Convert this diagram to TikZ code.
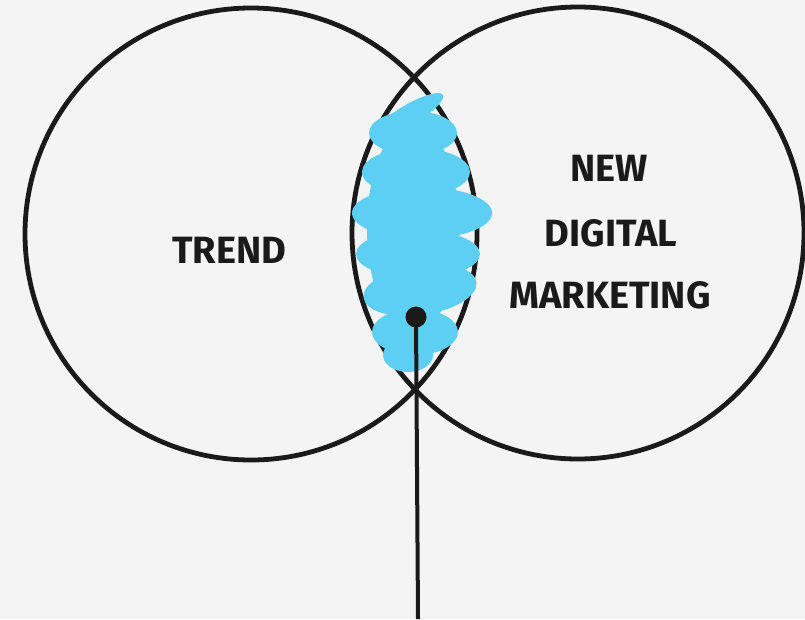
\documentclass[tikz,border=0pt]{standalone}
\usepackage{fontspec}
\setmainfont{Fira Sans}
\definecolor{venn_ink}{RGB}{26, 26, 26}
\definecolor{venn_blue}{RGB}{93, 207, 242}
\definecolor{venn_paper}{RGB}{244, 244, 244}
\usepackage{tikz}
\usetikzlibrary{positioning}

\begin{document}
\begin{tikzpicture}[
        x=1pt, y=-1pt,
        every node/.style={font=\fontsize{38}{40}\selectfont\bfseries, inner sep=0pt},
        ring/.style={draw=venn_ink, circle, line width=4.8pt, minimum size=452pt},
        word/.style={text=venn_ink},
        pin/.style={fill=venn_ink, circle, minimum size=21pt},
        scrib/.style={fill=venn_blue},
      ]
        \fill[venn_paper] (0,0) rectangle (805,619);
        \useasboundingbox (0,0) rectangle (805,619);

        \node[ring] (trend) at (251,234) {};
        \node[ring] (digital) at (578,233) {};

        % blue scribble in the overlap
        \fill[scrib] (413,228) ellipse [x radius=46, y radius=105];
        \foreach \cx/\cy/\rx/\ry/\ang in {
            410/114/38/10/30, 413/133/44/22/0, 416/172/54/24/0,
            422/213/70/26/0, 418/254/62/24/0, 420/290/57/25/8,
            415/332/43/23/0, 408/355/25/17/0}
          \fill[scrib, rotate around={\ang:(\cx,\cy)}] (\cx,\cy) ellipse [x radius=\rx, y radius=\ry];

        \node[word] (trendtxt) at (229,250) {TREND};
        \node[word] (newtxt)   at (609,168) {NEW};
        \node[word] (digtxt)   at (611,233) {DIGITAL};
        \node[word] (mkttxt)   at (610,295) {MARKETING};

        \node[pin] (dot) at (416,317) {};
        \coordinate (stem) at (418,619);
        \draw[venn_ink, line width=4pt] (dot.center) -- (stem);
      \end{tikzpicture}
\end{document}
